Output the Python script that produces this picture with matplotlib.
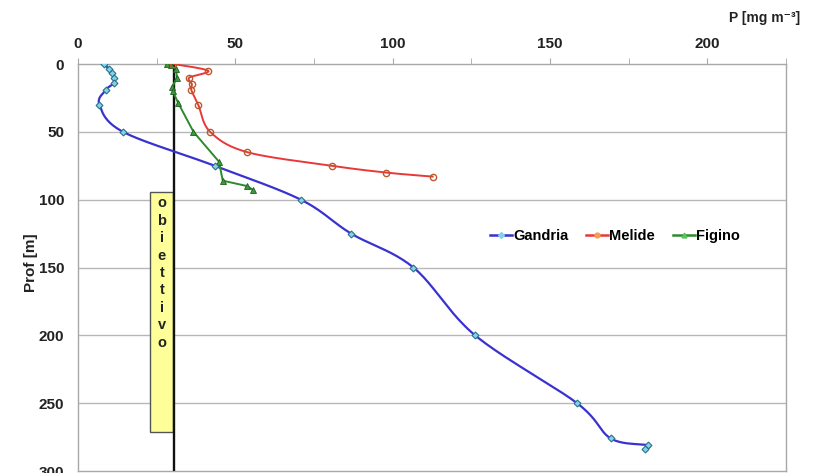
import numpy as np
import matplotlib
matplotlib.use("Agg")
import matplotlib.pyplot as plt
from matplotlib.patches import Rectangle
from matplotlib.lines import Line2D

plt.rcParams['font.family'] = ['Liberation Sans', 'DejaVu Sans']

# Phosphorus profiles, P [mg m-3] versus depth [m]
gandria_depth = [0, 4, 7, 10, 14, 19, 30, 50, 75, 100, 125, 150, 200, 250, 276, 281, 284]
gandria_p = [8.3, 10.0, 10.9, 11.5, 11.5, 8.9, 6.8, 14.3, 43.4, 70.8, 86.8, 106.6, 126.2, 158.6, 169.3, 181.0, 180.2]

melide_depth = [0, 5, 10, 15, 19, 30, 50, 65, 75, 80, 83]
melide_p = [30.3, 41.4, 35.4, 36.2, 36.0, 38.2, 42.0, 53.8, 80.6, 97.8, 112.7]

figino_depth = [0, 1, 4, 10, 17, 20, 29, 50, 72, 86, 90, 93]
figino_p = [28.2, 29.5, 31.2, 31.4, 30.0, 30.1, 31.9, 36.7, 44.8, 46.0, 53.8, 55.7]

objective_p = 30.5
objective_box = (23, 30.3, 94, 271)  # p_left, p_right, depth_top, depth_bottom
objective_label = "obiettivo"

x_ticks = [0, 50, 100, 150, 200]
y_ticks = [0, 50, 100, 150, 200, 250, 300]

W, H = 814, 473
fig = plt.figure(figsize=(W / 100, H / 100), dpi=100)
ax = fig.add_axes([78 / W, 1 - 471 / H, (786 - 78) / W, (471 - 64) / H])
ax.set_xlim(0, 225)
ax.set_ylim(300, 0)

sx = (786 - 78) / 225.0
sy = (471 - 64) / 300.0


def smooth(xs, ys, n=24):
    """Bezier smoothing through the points, computed in screen proportions."""
    P = np.column_stack([np.asarray(xs, float) * sx, np.asarray(ys, float) * sy])
    out = [P[0]]
    for i in range(len(P) - 1):
        p0 = P[i - 1] if i > 0 else P[i]
        p1 = P[i]
        p2 = P[i + 1]
        p3 = P[i + 2] if i + 2 < len(P) else P[i + 1]
        c1 = p1 + (p2 - p0) / 6.0
        c2 = p2 - (p3 - p1) / 6.0
        t = np.linspace(0, 1, n)[1:, None]
        seg = ((1 - t) ** 3) * p1 + 3 * ((1 - t) ** 2) * t * c1 + 3 * (1 - t) * t ** 2 * c2 + t ** 3 * p2
        out.extend(seg)
    out = np.array(out)
    return out[:, 0] / sx, out[:, 1] / sy


# grid and frame
for d in y_ticks[1:-1]:
    ax.axhline(d, color='#b8b8b8', lw=1.0, zorder=0)
for s in ax.spines.values():
    s.set_color('#a8a8a8')
    s.set_linewidth(1.0)

ax.xaxis.tick_top()
ax.set_xticks(x_ticks)
ax.set_xticks([25, 75, 125, 175, 225], minor=True)
ax.set_yticks(y_ticks)
ax.tick_params(axis='x', which='both', direction='out', length=4, color='#a8a8a8', pad=5)
ax.tick_params(axis='y', which='both', length=0, pad=10)
for lab in ax.get_xticklabels() + ax.get_yticklabels():
    lab.set_fontweight('bold')
    lab.set_fontsize(11)
    lab.set_color('#222222')

# objective marker
x0, x1, d0, d1 = objective_box
ax.add_patch(Rectangle((x0, d0), x1 - x0, d1 - d0, facecolor='#ffff99',
                       edgecolor='#555555', lw=1.0, zorder=2))
ax.plot([objective_p, objective_p], [0, 300], color='#111111', lw=1.7, zorder=3)
ax.text((x0 + x1) / 2, 97.5, "\n".join(objective_label), ha='center', va='top',
        fontsize=10.5, fontweight='bold', linespacing=1.31, color='#222222', zorder=4)

# Gandria
gx, gy = smooth(gandria_p, gandria_depth)
ax.plot(gx, gy, color='#3a32d0', lw=1.6, zorder=5)
ax.plot(gandria_p, gandria_depth, ls='none', marker='D', ms=3.5,
        mfc='#7fd4e8', mec='#2e6f8a', mew=0.8, zorder=6)

# Melide
mx, my = smooth(melide_p, melide_depth)
ax.plot(mx, my, color='#e8383a', lw=1.4, zorder=5)
ax.plot(melide_p, melide_depth, ls='none', marker='o', ms=4.5,
        mfc='none', mec='#b85a2a', mew=1.0, zorder=6)

# Figino
ax.plot(figino_p, figino_depth, color='#2d8a2d', lw=1.4, marker='^', ms=4,
        mfc='#3c9a3c', mec='#1f5f1f', mew=0.6, zorder=5)

handles = [
    Line2D([], [], color='#3a32d0', lw=1.8, marker='D', ms=3, mfc='#7fd4e8', mec='#7fd4e8'),
    Line2D([], [], color='#e8383a', lw=1.8, marker='o', ms=3.5, mfc='#f0a050', mec='#f0a050'),
    Line2D([], [], color='#2d8a2d', lw=1.8, marker='^', ms=3.5, mfc='#5cc05c', mec='#5cc05c'),
]
fig.legend(handles, ['Gandria', 'Melide', 'Figino'], loc='center',
           bbox_to_anchor=(615 / W, 1 - 236 / H), ncol=3, frameon=False,
           handlelength=1.5, handletextpad=0.1, columnspacing=1.2,
           prop={'weight': 'bold', 'size': 10.5})

fig.text(800 / W, 1 - 18 / H, "P [mg m\u207b\u00b3]", ha='right', va='center',
         fontsize=10, fontweight='bold', color='#222222')
fig.text(31 / W, 1 - 263 / H, "Prof [m]", rotation=90, ha='center', va='center',
         fontsize=11, fontweight='bold', color='#222222')

fig.savefig("out.png", dpi=100, facecolor='white')
